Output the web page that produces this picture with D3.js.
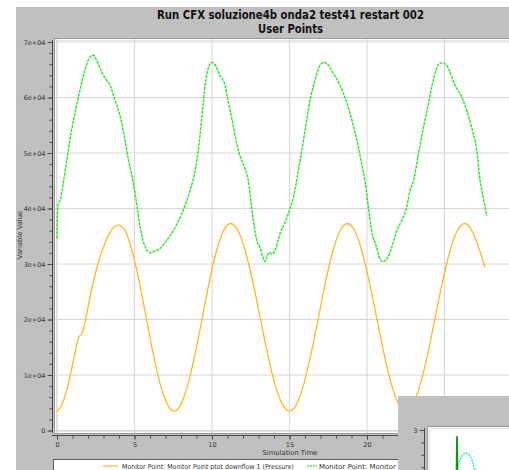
<!DOCTYPE html>
<html>
<head>
<meta charset="utf-8">
<script src="https://cdn.jsdelivr.net/npm/d3@7"></script>
<style>
  html, body { margin: 0; padding: 0; background: #fff; }
  svg { display: block; }
  text { font-family: "DejaVu Sans", sans-serif; }
</style>
</head>
<body>
<svg id="chart" width="509" height="470"></svg>
<script>
// ---- data ----------------------------------------------------------------
const titleLines = ["Run CFX soluzione4b onda2 test41 restart 002", "User Points"];
const xLabel = "Simulation Time";
const yLabel = "Variable Value";
const seriesNames = [
  "Monitor Point: Monitor Point ptot downflow 1 (Pressure)",
  "Monitor Point: Monitor Point ptot upflow 1 (Pressure)"
];

const xTickValues = [0, 5, 10, 15, 20, 25];
const xTickLabels = ["0", "5", "10", "15", "20", "25"];
const yTickValues = [0, 10000, 20000, 30000, 40000, 50000, 60000, 70000];
const yTickLabels = ["0", "1e+04", "2e+04", "3e+04", "4e+04", "5e+04", "6e+04", "7e+04"];

// downflow pressure (orange)
const downTime = [0, 0.3, 0.6, 0.9, 1.2, 1.4, 1.55, 1.7, 1.9, 2.2, 2.5, 2.8, 3.1, 3.4, 3.7, 3.95,
  4.4, 4.85, 5.3, 5.75, 6.2, 6.65, 7.1, 7.55,
  8.01, 8.46, 8.92, 9.38, 9.83, 10.29, 10.74, 11.2,
  11.68, 12.15, 12.63, 13.1, 13.58, 14.05, 14.53, 15.0,
  15.47, 15.93, 16.4, 16.87, 17.33, 17.8, 18.26, 18.73,
  19.2, 19.67, 20.14, 20.62, 21.09, 21.56, 22.03, 22.5,
  22.98, 23.45, 23.93, 24.4, 24.88, 25.35, 25.83, 26.3,
  26.75, 27.2, 27.62];
const downValue = [3400, 4600, 7000, 10500, 14500, 16800, 17300, 18200, 20800, 25000, 28600, 31500, 33800, 35600, 36700, 37000,
  36000, 32300, 26900, 20400, 13900, 8450, 4800, 3500,
  4800, 8450, 13930, 20400, 26870, 32350, 36000, 37300,
  36000, 32350, 26870, 20400, 13930, 8450, 4800, 3500,
  4800, 8450, 13930, 20400, 26870, 32350, 36000, 37300,
  36000, 32350, 26870, 20400, 13930, 8450, 4800, 3500,
  4800, 8450, 13930, 20400, 26870, 32350, 36000, 37300,
  36100, 33000, 29400];

// upflow pressure (green, dotted)
const upTime = [0, 0.05, 0.2, 0.4, 0.65, 0.9, 1.15, 1.48, 1.8, 2.13, 2.34, 2.56, 2.88, 3.2, 3.42, 3.74, 4.06, 4.39, 4.6,
  4.9, 5.16, 5.35, 5.55, 5.74, 6.0, 6.32, 6.65, 6.97, 7.3, 7.68, 8.13, 8.58, 8.97, 9.23, 9.42, 9.6, 9.8, 10.0,
  10.26, 10.5, 10.84, 11.03, 11.3, 11.55, 11.8, 12.06, 12.34, 12.56, 12.77, 12.92, 13.1, 13.25, 13.42, 13.53,
  13.68, 13.85, 14.06, 14.39, 14.71, 15.03, 15.25, 15.46, 15.68, 16.0, 16.32, 16.65, 16.97, 17.23, 17.48, 17.8,
  18.26, 18.65, 19.03, 19.42, 19.68, 19.87, 20.09, 20.3, 20.62, 20.84, 21.05, 21.27, 21.6, 21.92, 22.24, 22.56,
  22.77, 23.0, 23.3, 23.6, 23.94, 24.2, 24.45, 24.7, 24.92, 25.14, 25.35, 25.68, 26.0, 26.2, 26.43, 26.75, 27.08,
  27.3, 27.5, 27.72];
const upValue = [34600, 40500, 41500, 44500, 49000, 53500, 57000, 61300, 64900, 67300, 67600, 66700, 64600, 63100, 62200, 59500, 56800, 52300, 48900,
  45000, 40500, 36900, 34200, 32800, 32000, 32400, 32800, 33900, 35100, 36900, 39600, 43200, 47700, 53200, 58600, 63100, 65600, 66300,
  65600, 64000, 62200, 59500, 55900, 52300, 49500, 47700, 45000, 40200, 36000, 33900, 33000, 31500, 30450, 31200,
  32100, 31800, 32400, 35500, 37500, 39900, 42000, 45000, 48600, 54000, 59500, 63100, 65800, 66300, 65900, 64500,
  62200, 59500, 55900, 51400, 47700, 45000, 40200, 36000, 33000, 30900, 30400, 30900, 33000, 36000, 37800, 40200,
  43200, 45000, 49500, 54000, 58600, 62200, 64900, 66200, 66200, 65800, 64600, 62200, 60700, 59500, 57700, 54600, 50500,
  45000, 42000, 38700];

// second monitor window (partly hidden behind the first)
const insetYTicks = [3, 2.8, 2.6, 2.4, 2.2];
const insetYLabels = ["3", "", "", "", ""];
const insetSpikeTime = [0.285, 0.295, 0.30, 0.305, 0.31];
const insetSpikeValue = [2.0, 2.2, 2.9, 2.2, 2.0];
const insetCurveTime = [0.28, 0.297, 0.32, 0.347, 0.37, 0.39, 0.42, 0.447, 0.48, 0.5];
const insetCurveValue = [2.1, 2.35, 2.48, 2.57, 2.62, 2.63, 2.6, 2.53, 2.35, 2.2];

// ---- layout --------------------------------------------------------------
const svg = d3.select("#chart");
const W = 509, H = 470;
const plot = { left: 54, top: 38, right: 540, bottom: 433 };

const x = d3.scaleLinear().domain([0, 30]).range([57, 57 + 30 * 15.5]);
const y = d3.scaleLinear().domain([0, 70000]).range([430.5, 42]);

// window background
svg.append("rect").attr("x", 16).attr("y", 7).attr("width", W - 16).attr("height", H - 7).attr("fill", "#c0c0c0");

// title
const title = svg.append("g").attr("font-weight", "bold").attr("fill", "#111").attr("text-anchor", "middle");
title.append("text").attr("x", 290.5).attr("y", 19).attr("font-size", 11.5)
  .attr("font-family", "Liberation Sans, Arial, sans-serif")
  .attr("textLength", 267).attr("lengthAdjust", "spacingAndGlyphs").text(titleLines[0]);
title.append("text").attr("x", 290.5).attr("y", 33).attr("font-size", 11.5)
  .attr("font-family", "Liberation Sans, Arial, sans-serif")
  .attr("textLength", 65).attr("lengthAdjust", "spacingAndGlyphs").text(titleLines[1]);

// plot area
svg.append("rect").attr("x", plot.left + 0.5).attr("y", plot.top + 0.5)
  .attr("width", plot.right - plot.left).attr("height", plot.bottom - plot.top)
  .attr("fill", "#fff").attr("stroke", "#9a9a9a");
svg.append("rect").attr("x", plot.left + 2.5).attr("y", plot.top + 2.5)
  .attr("width", plot.right - plot.left).attr("height", plot.bottom - plot.top - 4)
  .attr("fill", "none").attr("stroke", "#e4e4e4");

// grid
const grid = svg.append("g").attr("stroke", "#d6d6d6").attr("stroke-width", 1);
grid.selectAll(".gy").data(yTickValues).join("line")
  .attr("x1", plot.left + 1).attr("x2", plot.right)
  .attr("y1", d => y(d)).attr("y2", d => y(d));
grid.selectAll(".gx").data(xTickValues).join("line")
  .attr("y1", plot.top + 1).attr("y2", plot.bottom)
  .attr("x1", d => x(d)).attr("x2", d => x(d));

// series
svg.append("clipPath").attr("id", "plotclip").append("rect")
  .attr("x", plot.left + 1).attr("y", plot.top + 1).attr("width", plot.right - plot.left).attr("height", plot.bottom - plot.top - 1);

const downData = downTime.map((t, i) => [t, downValue[i]]);
const upData = upTime.map((t, i) => [t, upValue[i]]);

const series = svg.append("g").attr("clip-path", "url(#plotclip)");
series.append("path").datum(downData)
  .attr("fill", "none").attr("stroke", "#ffb81c").attr("stroke-width", 1.3)
  .attr("d", d3.line().x(d => x(d[0])).y(d => y(d[1])).curve(d3.curveMonotoneX));
series.append("path").datum(upData)
  .attr("fill", "none").attr("stroke", "#1ee81e").attr("stroke-width", 1.4)
  .attr("stroke-dasharray", "3,1")
  .attr("d", d3.line().x(d => x(d[0])).y(d => y(d[1])).curve(d3.curveMonotoneX));

// axes
const axisColor = "#4a4a4a";
const yAxis = svg.append("g").attr("transform", "translate(52.5,0)");
yAxis.call(d3.axisLeft(y).tickValues(d3.range(0, 70001, 2000)).tickSize(3).tickFormat(""));
const yMajor = svg.append("g").attr("transform", "translate(52.5,0)");
yMajor.call(d3.axisLeft(y).tickValues(yTickValues).tickSize(5)
  .tickFormat((d, i) => yTickLabels[i]).tickPadding(2));
[yAxis, yMajor].forEach(g => {
  g.select(".domain").attr("stroke", axisColor).attr("d", `M0,${y(0) + 2}V${y(70000) - 2}`);
  g.selectAll(".tick line").attr("stroke", axisColor);
});
yMajor.selectAll(".tick text").attr("font-size", 6.5).attr("fill", "#333").attr("font-family", "DejaVu Sans, sans-serif");

const xAxis = svg.append("g").attr("transform", "translate(0,435.5)");
xAxis.call(d3.axisBottom(x).tickValues(d3.range(0, 30, 1)).tickSize(3).tickFormat(""));
const xMajor = svg.append("g").attr("transform", "translate(0,435.5)");
xMajor.call(d3.axisBottom(x).tickValues(xTickValues).tickSize(4)
  .tickFormat((d, i) => xTickLabels[i]).tickPadding(3));
[xAxis, xMajor].forEach(g => {
  g.select(".domain").attr("stroke", axisColor).attr("d", `M${x(0) - 5},0H${W}`);
  g.selectAll(".tick line").attr("stroke", axisColor);
});
xMajor.selectAll(".tick text").attr("font-size", 6.5).attr("fill", "#333").attr("font-family", "DejaVu Sans, sans-serif");

// axis titles
svg.append("text").attr("x", 290).attr("y", 455).attr("text-anchor", "middle")
  .attr("font-size", 6.8).attr("fill", "#333").text(xLabel);
svg.append("text").attr("transform", "translate(22,235) rotate(-90)").attr("text-anchor", "middle")
  .attr("font-size", 6.8).attr("fill", "#333").text(yLabel);

// legend
svg.append("rect").attr("x", 53.5).attr("y", 459.5).attr("width", 470).attr("height", 20)
  .attr("fill", "#fff").attr("stroke", "#5a5a5a");
svg.append("line").attr("x1", 103).attr("x2", 118).attr("y1", 466).attr("y2", 466)
  .attr("stroke", "#ffd27a").attr("stroke-width", 2.2);
svg.append("text").attr("x", 122).attr("y", 468.5).attr("font-size", 6.8).attr("fill", "#333")
  .attr("textLength", 172).attr("lengthAdjust", "spacingAndGlyphs").text(seriesNames[0]);
svg.append("line").attr("x1", 307).attr("x2", 317).attr("y1", 466).attr("y2", 466)
  .attr("stroke", "#3cf03c").attr("stroke-width", 1.5).attr("stroke-dasharray", "2,1");
svg.append("text").attr("x", 319).attr("y", 468.5).attr("font-size", 6.8).attr("fill", "#333")
  .attr("textLength", 182).attr("lengthAdjust", "spacingAndGlyphs").text(seriesNames[1]);

// second monitor window in front
const inset = svg.append("g");
inset.append("rect").attr("x", 398).attr("y", 396).attr("width", W - 398).attr("height", H - 396)
  .attr("fill", "#c0c0c0");
inset.append("rect").attr("x", 427.5).attr("y", 426.5).attr("width", 100).attr("height", 60)
  .attr("fill", "#fff").attr("stroke", "#9a9a9a");
inset.append("rect").attr("x", 429.5).attr("y", 428.5).attr("width", 100).attr("height", 60)
  .attr("fill", "none").attr("stroke", "#e4e4e4");

const ix = d3.scaleLinear().domain([0, 1]).range([427, 527]);
const iy = d3.scaleLinear().domain([2, 3]).range([492, 430]);
const iAxis = inset.append("g").attr("transform", "translate(424.5,0)");
iAxis.call(d3.axisLeft(iy).tickValues(insetYTicks).tickSize(3)
  .tickFormat((d, i) => insetYLabels[i]).tickPadding(4));
iAxis.select(".domain").attr("stroke", axisColor).attr("d", `M0,428V${H}`);
iAxis.selectAll(".tick line").attr("stroke", axisColor);
iAxis.selectAll(".tick").filter((d, i) => i === 0).select("line").attr("x2", -5);
iAxis.selectAll(".tick text").attr("font-size", 6.5).attr("fill", "#333");

inset.append("clipPath").attr("id", "insetclip").append("rect")
  .attr("x", 428).attr("y", 427).attr("width", 100).attr("height", 60);
const ig = inset.append("g").attr("clip-path", "url(#insetclip)");
ig.append("path").datum(insetCurveTime.map((t, i) => [t, insetCurveValue[i]]))
  .attr("fill", "none").attr("stroke", "#19e6e6").attr("stroke-width", 1.4).attr("stroke-dasharray", "2,1")
  .attr("d", d3.line().x(d => ix(d[0])).y(d => iy(d[1])).curve(d3.curveMonotoneX));
ig.append("path").datum(insetSpikeTime.map((t, i) => [t, insetSpikeValue[i]]))
  .attr("fill", "none").attr("stroke", "#0a9a0a").attr("stroke-width", 1.8)
  .attr("d", d3.line().x(d => ix(d[0])).y(d => iy(d[1])));
</script>
</body>
</html>
